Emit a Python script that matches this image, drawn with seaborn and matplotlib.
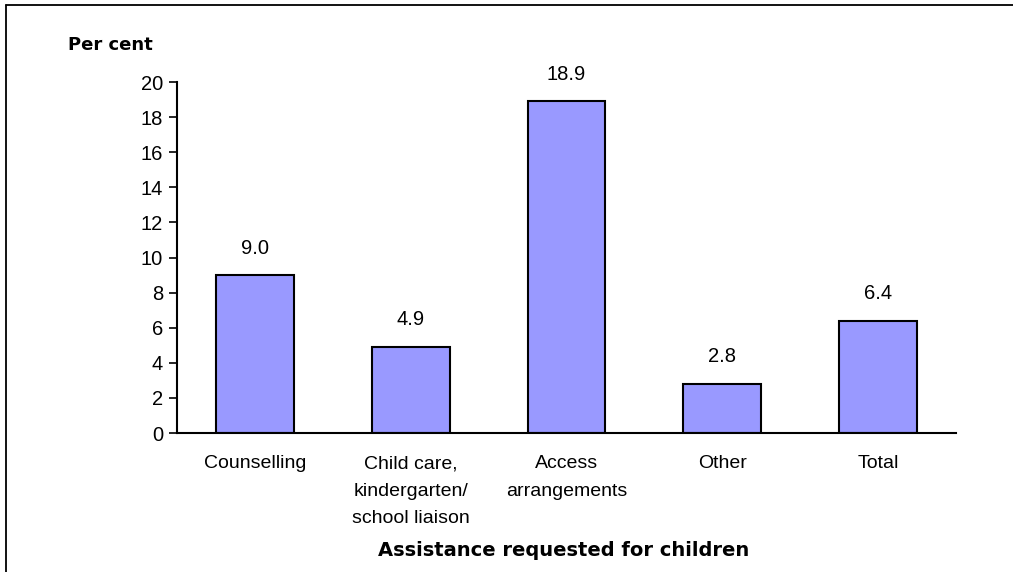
import matplotlib
matplotlib.use('Agg')
import matplotlib.pyplot as plt
import seaborn as sns
import pandas as pd
from matplotlib.lines import Line2D

categories = ['Counselling', 'Child care,\nkindergarten/\nschool liaison',
              'Access\narrangements', 'Other', 'Total']
values = [9.0, 4.9, 18.9, 2.8, 6.4]
yticks = [0, 2, 4, 6, 8, 10, 12, 14, 16, 18, 20]

df = pd.DataFrame({'cat': categories, 'val': values})

sns.set_style('white')
plt.rcParams['font.family'] = ['Liberation Sans', 'DejaVu Sans']
plt.rcParams['text.color'] = 'black'
plt.rcParams['xtick.color'] = 'black'
plt.rcParams['ytick.color'] = 'black'

fig = plt.figure(figsize=(10.13, 5.72), dpi=100)
ax = fig.add_axes([0.1747, 0.243, 0.769, 0.6134])

sns.barplot(data=df, x='cat', y='val', color='#9999FF', saturation=1,
            width=0.5, edgecolor='black', linewidth=1.5, ax=ax)

for i, v in enumerate(values):
    ax.text(i, v + 1.0, f'{v:.1f}', ha='center', va='bottom', fontsize=14.5)

ax.set_xlim(-0.5, 4.5)
ax.set_ylim(0, 20)
ax.set_yticks(yticks)
ax.tick_params(axis='y', direction='out', length=6, width=1.2, labelsize=14.5,
               left=True, pad=4)
ax.set_xticks(range(len(categories)))
ax.set_xticklabels(categories, linespacing=1.8)
ax.tick_params(axis='x', length=0, labelsize=14, pad=16)
ax.set_xlabel('')
ax.set_ylabel('')
sns.despine(ax=ax)
for s in ['left', 'bottom']:
    ax.spines[s].set_color('black')
    ax.spines[s].set_linewidth(1.5)

fig.text(0.067, 0.921, 'Per cent', fontsize=13, fontweight='bold',
         family='DejaVu Sans', va='center')
fig.text(0.556, 0.037, 'Assistance requested for children', fontsize=14,
         fontweight='bold', family='DejaVu Sans', ha='center', va='center')

# frame lines along the top and left edges
fig.lines.append(Line2D([0.006, 1.0], [0.991, 0.991], transform=fig.transFigure,
                        color='black', linewidth=1.3))
fig.lines.append(Line2D([0.006, 0.006], [0.0, 0.991], transform=fig.transFigure,
                        color='black', linewidth=1.3))

fig.savefig('out.png', dpi=100)
